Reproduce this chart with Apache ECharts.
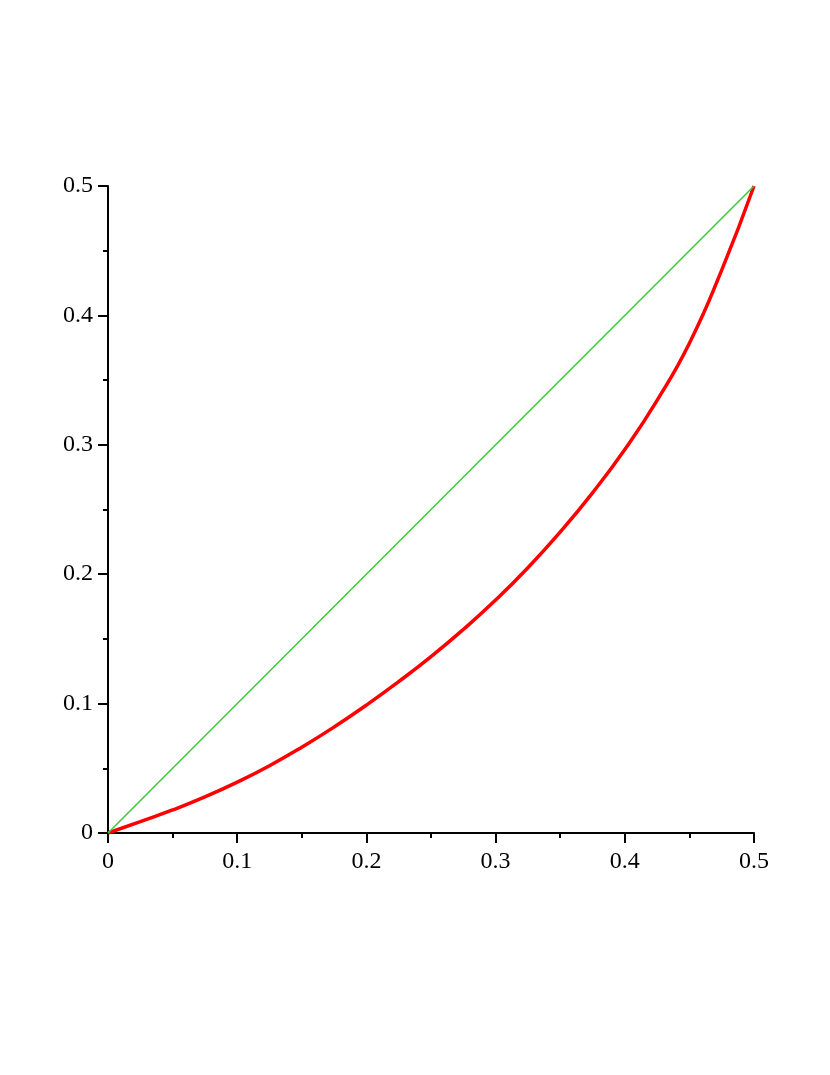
<!DOCTYPE html>
<html>
<head>
<meta charset="utf-8">
<script src="https://cdn.jsdelivr.net/npm/echarts@6/dist/echarts.min.js"></script>
<style>
html,body{margin:0;padding:0;background:#fff;}
#chart{width:830px;height:1075px;}
</style>
</head>
<body>
<div id="chart"></div>
<script>
// Data
const curveX = [0, 0.025, 0.05, 0.075, 0.1, 0.125, 0.15, 0.175, 0.2, 0.225, 0.25, 0.275, 0.3, 0.325, 0.35, 0.375, 0.4, 0.425, 0.45, 0.475, 0.5];
const curveY = [0, 0.0088, 0.0178, 0.0279, 0.0393, 0.052, 0.0663, 0.0819, 0.0988, 0.117, 0.1363, 0.1573, 0.180, 0.205, 0.2326, 0.2629, 0.2964, 0.3344, 0.3785, 0.435, 0.500];
const diagX = [0, 0.5];
const diagY = [0, 0.5];
const tickValues = [0, 0.1, 0.2, 0.3, 0.4, 0.5];

const chart = echarts.init(document.getElementById('chart'));
const font = 'Liberation Serif, Times New Roman, serif';
function axis() {
  return {
    type: 'value', min: 0, max: 0.5, interval: 0.1,
    axisLine: { show: true, onZero: false, lineStyle: { color: '#000', width: 2 } },
    axisTick: { show: true, inside: false, length: 10, lineStyle: { color: '#000', width: 2 } },
    minorTick: { show: true, splitNumber: 2, length: 5, lineStyle: { color: '#000', width: 2 } },
    splitLine: { show: false },
    minorSplitLine: { show: false },
    axisLabel: {
      color: '#000', fontFamily: font, fontSize: 24,
      formatter: function (v) { const m = tickValues.find(t => Math.abs(t - v) < 1e-9); return String(m !== undefined ? m : v); }
    }
  };
}
const xAxis = axis(); xAxis.axisLabel.margin = 17;
const yAxis = axis(); yAxis.axisLabel.margin = 15;
chart.setOption({
  animation: false,
  backgroundColor: '#fff',
  grid: { left: 108, right: 76, top: 186, bottom: 242, containLabel: false },
  xAxis: xAxis,
  yAxis: yAxis,
  series: [
    {
      type: 'line', symbol: 'none', smooth: 0.5,
      data: curveX.map((x, i) => [x, curveY[i]]),
      lineStyle: { color: '#ff0000', width: 3.5 }
    },
    {
      type: 'line', symbol: 'none',
      data: diagX.map((x, i) => [x, diagY[i]]),
      lineStyle: { color: '#3cc83c', width: 1.5 }
    }
  ]
});
</script>
</body>
</html>
